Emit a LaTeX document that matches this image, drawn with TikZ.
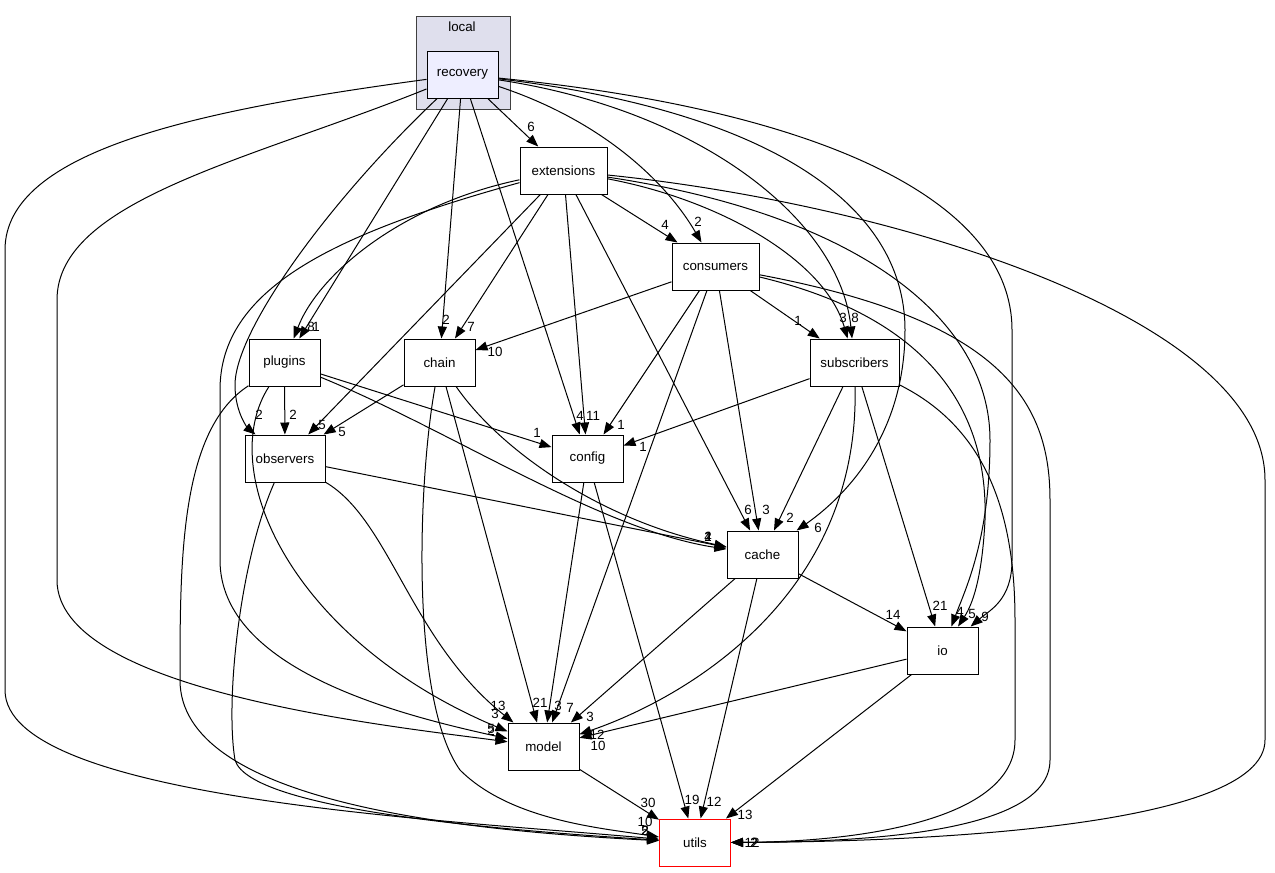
\documentclass[tikz,border=0pt]{standalone}
\usepackage{fontspec}
\setmainfont{Liberation Sans}
\usetikzlibrary{arrows.meta}
\definecolor{cclust}{HTML}{DFDFED}
\definecolor{cfocus}{HTML}{EEEEFF}
\definecolor{cframe}{HTML}{404040}
\definecolor{cred}{HTML}{FF0000}

\begin{document}
\begin{tikzpicture}[
  x=0.75pt, y=-0.75pt,
  font=\fontsize{10}{12}\selectfont,
  dir/.style={draw=black, line width=0.75pt, fill=white, inner sep=0pt,
              minimum width=53.25pt, minimum height=35.25pt},
  dep/.style={draw=black, line width=0.75pt, -{Triangle[length=9pt,width=6.8pt]}},
  lbl/.style={inner sep=0pt},
]
\useasboundingbox (0,0) rectangle (1275,872);
% Cluster
\draw[fill=cclust, draw=cframe, line width=0.75pt] (416,16) rectangle (510,109);
\node (clusterlbl) at (462,27) {local};
% Directories
\node[dir, fill=cfocus] (recovery) at (462.5,74.5) {recovery};
\node[dir, minimum width=65.25pt] (extensions) at (563.5,170.5) {extensions};
\node[dir, minimum width=65.25pt] (consumers) at (715.5,266.5) {consumers};
\node[dir] (plugins) at (284.5,362.5) {plugins};
\node[dir] (chain) at (439.5,362.5) {chain};
\node[dir, minimum width=66.75pt] (subscribers) at (854.5,362.5) {subscribers};
\node[dir, minimum width=60pt] (observers) at (285,458.5) {observers};
\node[dir] (config) at (587.5,458.5) {config};
\node[dir] (cache) at (762.5,554.5) {cache};
\node[dir] (io) at (942.5,650.5) {io};
\node[dir] (model) at (543.5,746.5) {model};
\node[dir, draw=cred] (utils) at (695,842.5) {utils};
% Straight dependencies
\foreach \a/\b/\lx/\ly/\t in {
  recovery/extensions/531/127/6,
  recovery/plugins/311/327/8,
  recovery/chain/446/320/2,
  recovery/config/580/416/4,
  extensions/consumers/665/225/4,
  extensions/chain/471/327/7,
  extensions/config/593/416/11,
  extensions/observers/322/425/5,
  extensions/cache/748/510/6,
  consumers/chain/495/352/10,
  consumers/config/621/425/1,
  consumers/model/570/708/7,
  consumers/cache/766/510/3,
  consumers/subscribers/798/321/1,
  plugins/observers/293/415/2,
  plugins/config/537/433/1,
  chain/observers/342/432/5,
  chain/model/540/703/21,
  subscribers/config/643/447/1,
  subscribers/cache/790/518/2,
  subscribers/io/940/606/21,
  observers/cache/708/537/2,
  config/model/558/706/3,
  config/utils/692/800/19,
  cache/io/893/615/14,
  cache/model/590/717/3,
  cache/utils/714/802/12,
  io/model/598/746/10,
  io/utils/745/815/13,
  model/utils/648/803/30%
}{
  \draw[dep] (\a) -- (\b) node[lbl] at (\lx,\ly) {\t};
}
% Curved dependencies
\draw[dep] (recovery) .. controls (600,120) and (665,180) .. (consumers) node[lbl] at (698,222) {2};
\draw[dep] (recovery) .. controls (700,110) and (840,220) .. (subscribers) node[lbl] at (855,318) {8};
\draw[dep] (recovery) .. controls (760,110) and (905,200) .. (905,330) .. controls (905,440) and (840,500) .. (cache) node[lbl] at (818,528) {6};
\draw[dep] (recovery) .. controls (820,110) and (1012,200) .. (1012,330) -- (1012,560) .. controls (1012,600) and (990,610) .. (io) node[lbl] at (985,617) {9};
\draw[dep] (recovery) .. controls (330,200) and (235,330) .. (235,385) .. controls (235,415) and (250,430) .. (observers) node[lbl] at (259,415) {2};
\draw[dep] (recovery) .. controls (250,160) and (57,200) .. (57,300) -- (57,580) .. controls (57,690) and (380,725) .. (model) node[lbl] at (491,731) {2};
\draw[dep] (recovery) .. controls (200,110) and (5,150) .. (5,250) -- (5,690) .. controls (5,800) and (450,820) .. (utils) node[lbl] at (645,831) {2};

\draw[dep] (extensions) .. controls (400,205) and (318,275) .. (plugins) node[lbl] at (316,327) {1};
\draw[dep] (extensions) .. controls (720,200) and (825,260) .. (subscribers) node[lbl] at (843,318) {3};
\draw[dep] (extensions) .. controls (860,215) and (990,320) .. (990,440) .. controls (990,540) and (965,590) .. (io) node[lbl] at (960,612) {4};
\draw[dep] (extensions) .. controls (900,205) and (1265,320) .. (1265,480) -- (1265,740) .. controls (1265,830) and (900,842) .. (utils) node[lbl] at (752,843) {12};
\draw[dep] (extensions) .. controls (330,235) and (220,290) .. (220,390) -- (220,560) .. controls (220,670) and (400,715) .. (model) node[lbl] at (495,714) {3};

\draw[dep] (consumers) .. controls (940,320) and (988,420) .. (985,520) .. controls (982,580) and (972,605) .. (io) node[lbl] at (972,614) {5};
\draw[dep] (consumers) .. controls (1000,320) and (1050,400) .. (1050,500) -- (1050,760) .. controls (1050,830) and (880,842) .. (utils) node[lbl] at (754,843) {2};

\draw[dep] (plugins) .. controls (450,430) and (600,530) .. (cache) node[lbl] at (708,537) {4};
\draw[dep] (plugins) .. controls (215,470) and (290,640) .. (model) node[lbl] at (491,729) {5};
\draw[dep] (plugins) .. controls (180,430) and (180,560) .. (180,680) .. controls (180,800) and (450,830) .. (utils) node[lbl] at (645,831) {5};

\draw[dep] (chain) .. controls (500,450) and (600,520) .. (cache) node[lbl] at (708,537) {1};
\draw[dep] (chain) .. controls (418,480) and (410,700) .. (460,770) .. controls (510,820) and (600,828) .. (utils) node[lbl] at (645,822) {10};

\draw[dep] (observers) .. controls (390,520) and (410,640) .. (model) node[lbl] at (498,706) {13};
\draw[dep] (observers) .. controls (240,560) and (225,700) .. (235,760) .. controls (250,810) and (500,830) .. (utils) node[lbl] at (645,831) {2};

\draw[dep] (subscribers) .. controls (860,600) and (680,700) .. (model) node[lbl] at (597,735) {12};
\draw[dep] (subscribers) .. controls (990,430) and (1015,520) .. (1015,620) -- (1015,740) .. controls (1015,820) and (860,842) .. (utils) node[lbl] at (754,843) {2};
\end{tikzpicture}
\end{document}
